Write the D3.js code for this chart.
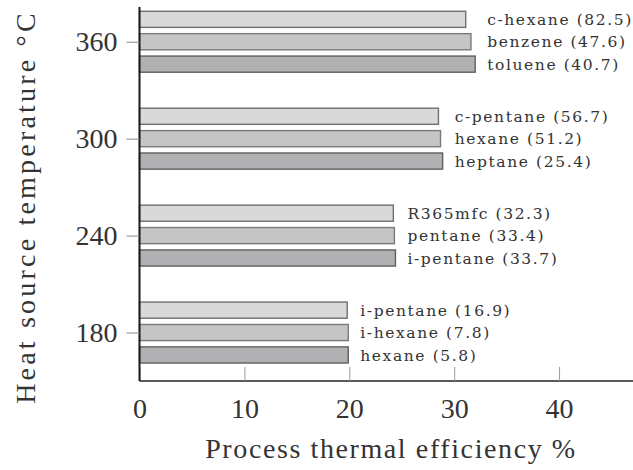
<!DOCTYPE html>
<html>
<head>
<meta charset="utf-8">
<script src="https://cdn.jsdelivr.net/npm/d3@7"></script>
<style>
  html, body { margin: 0; padding: 0; background: #fff; }
  svg { display: block; }
</style>
</head>
<body>
<svg id="chart" width="633" height="470"></svg>
<script>
// Heat source temperatures (one group of bars per temperature)
const temperatures = [180, 240, 300, 360];

// Working fluids per group, listed top to bottom
const fluids = [
  ["i-pentane", "i-hexane", "hexane"],
  ["R365mfc", "pentane", "i-pentane"],
  ["c-pentane", "hexane", "heptane"],
  ["c-hexane", "benzene", "toluene"]
];

// Bracketed figure printed after each fluid name
const bracketValues = [
  [16.9, 7.8, 5.8],
  [32.3, 33.4, 33.7],
  [56.7, 51.2, 25.4],
  [82.5, 47.6, 40.7]
];

// Process thermal efficiency (%) for each fluid
const efficiency = [
  [19.8, 19.9, 19.9],
  [24.2, 24.3, 24.4],
  [28.5, 28.7, 28.9],
  [31.1, 31.6, 32.0]
];

const xTicks = [0, 10, 20, 30, 40];
const yTicks = [180, 240, 300, 360];

const barFills = ["#d9d9da", "#c5c5c6", "#b1b1b3"];
const barStrokes = ["#6f6f6f", "#7a7a7a", "#5f5f5f"];

const svg = d3.select("#chart");

const x = d3.scaleLinear().domain([0, 47]).range([139.5, 632.5]);
const y = d3.scaleLinear().domain([150, 381.5]).range([381, 7]);

// Position of each bar inside its temperature group (pixels from the group centre)
const slot = d3.scaleBand().domain([0, 1, 2]).range([-33.6, 33.6])
  .paddingInner(0.28).paddingOuter(0.14);

const rows = [];
temperatures.forEach((t, g) => {
  fluids[g].forEach((name, i) => {
    rows.push({ t, g, i, name, bracket: bracketValues[g][i], value: efficiency[g][i] });
  });
});

// Bars
svg.append("g").selectAll("rect")
  .data(rows)
  .join("rect")
  .attr("x", x(0))
  .attr("y", d => y(d.t) + slot(d.i))
  .attr("width", d => x(d.value) - x(0))
  .attr("height", slot.bandwidth())
  .attr("fill", d => barFills[d.i])
  .attr("stroke", d => barStrokes[d.i])
  .attr("stroke-width", 1.4);

// Fluid labels, aligned per group just past the longest bar
svg.append("g").selectAll("text")
  .data(rows)
  .join("text")
  .attr("x", d => x(d3.max(efficiency[d.g])) + 12)
  .attr("y", d => y(d.t) + slot(d.i) + slot.bandwidth() / 2)
  .attr("dy", "0.36em")
  .attr("font-family", "DejaVu Serif")
  .attr("font-size", 15.5)
  .attr("letter-spacing", 1.6)
  .attr("fill", "#333")
  .text(d => `${d.name} (${d.bracket.toFixed(1)})`);

// Bottom axis with inward ticks
const xAxis = svg.append("g")
  .attr("transform", `translate(0,${y(150)})`)
  .call(d3.axisBottom(x).tickValues(xTicks).tickSize(-14).tickPadding(17).tickFormat(d3.format("d")));
xAxis.select(".domain").attr("stroke", "#5a5a5a").attr("stroke-width", 2).attr("d", `M${x(0)},0H633`);
xAxis.selectAll(".tick line").attr("stroke", "#9a9a9a").attr("stroke-width", 1);
xAxis.selectAll(".tick text")
  .attr("font-family", "Liberation Serif")
  .attr("font-size", 28)
  .attr("fill", "#333");

// Left axis with outward ticks
const yAxis = svg.append("g")
  .attr("transform", `translate(${x(0)},0)`)
  .call(d3.axisLeft(y).tickValues(yTicks).tickSize(13).tickPadding(9).tickFormat(d3.format("d")));
yAxis.select(".domain").attr("stroke", "#1a1a1a").attr("stroke-width", 2).attr("d", `M0,${y(381.5)}V${y(150)}`);
yAxis.selectAll(".tick line").attr("stroke", "#8a8a8a").attr("stroke-width", 1);
yAxis.selectAll(".tick text")
  .attr("font-family", "Liberation Serif")
  .attr("font-size", 28)
  .attr("fill", "#333");

// Axis titles
svg.append("text")
  .attr("x", 391)
  .attr("y", 458)
  .attr("text-anchor", "middle")
  .attr("font-family", "Liberation Serif")
  .attr("font-size", 28)
  .attr("letter-spacing", 1.6)
  .attr("fill", "#333")
  .text("Process thermal efficiency %");

svg.append("text")
  .attr("transform", "translate(35,207) rotate(-90)")
  .attr("text-anchor", "middle")
  .attr("font-family", "Liberation Serif")
  .attr("font-size", 28)
  .attr("letter-spacing", 3.2)
  .attr("fill", "#333")
  .text("Heat source temperature °C");
</script>
</body>
</html>
